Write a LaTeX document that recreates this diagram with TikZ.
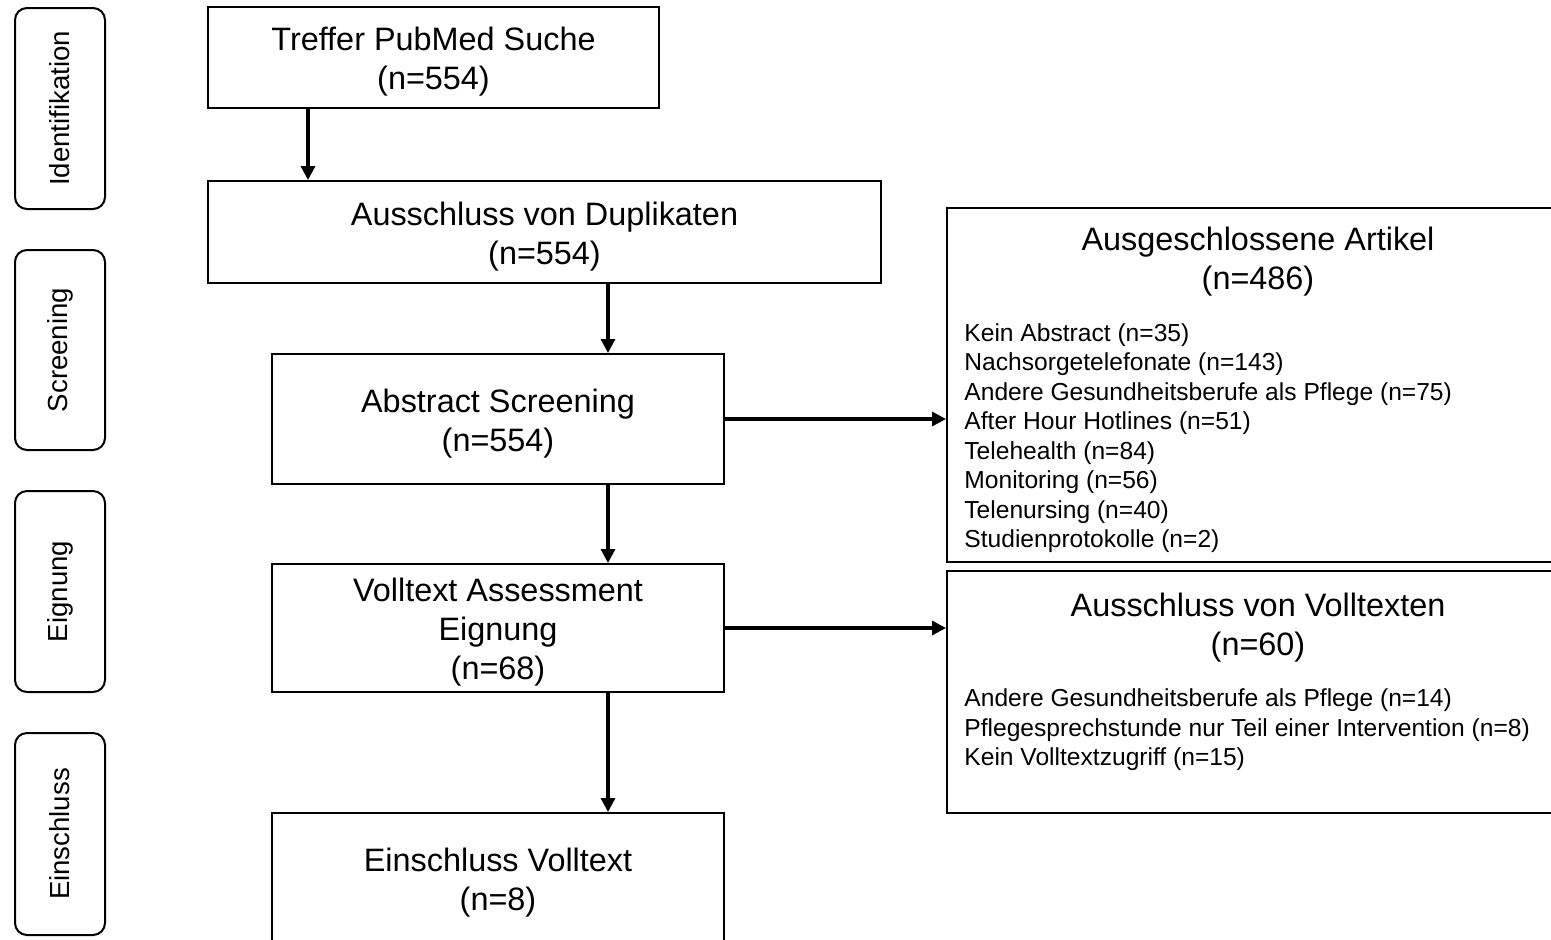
\documentclass[tikz,border=0pt]{standalone}
\usepackage{fontspec}
\setmainfont{Liberation Sans}
\usetikzlibrary{arrows.meta}
\begin{document}
\begin{tikzpicture}[x=0.5pt,y=-0.5pt,
  box/.style={draw=black,line width=1pt,inner sep=0pt},
  boxtext/.style={align=center,inner sep=0pt,
    font=\fontsize{16.2pt}{19.5pt}\selectfont},
  exbox/.style={draw=black,line width=1pt,inner sep=0pt},
  phase/.style={draw=black,line width=1pt,rounded corners=6pt,inner sep=0pt,
    minimum width=45pt},
  phasetext/.style={rotate=90,font=\fontsize{13.8pt}{16pt}\selectfont},
  title/.style={align=center,inner sep=0pt,font=\fontsize{16.2pt}{19.5pt}\selectfont},
  list/.style={align=left,inner sep=0pt,anchor=west,font=\fontsize{12.3pt}{14.75pt}\selectfont},
  arr/.style={line width=1.6pt,-{Triangle[length=7pt,width=7pt]}}]
\useasboundingbox (0,0) rectangle (1551,939);
\clip (0,0) rectangle (1551,939);
% phase labels
\node[phase,minimum height=100.5pt] (l1) at (60,108.5) {};
\node[phasetext] (t1) at (l1.center) {Identifikation};
\node[phase,minimum height=100pt] (l2) at (60,350) {};
\node[phasetext] (t2) at (l2.center) {Screening};
\node[phase,minimum height=100.5pt] (l3) at (60,591.5) {};
\node[phasetext] (t3) at (l3.center) {Eignung};
\node[phase,minimum height=101pt] (l4) at (60,834) {};
\node[phasetext] (t4) at (l4.center) {Einschluss};
% main boxes
\node[box,minimum width=225.5pt,minimum height=50.5pt] (b1) at (433.5,57.5) {};
\node[boxtext] (b1t) at ([yshift=-2.2pt]b1.center) {Treffer PubMed Suche\\(n=554)};
\node[box,minimum width=336.5pt,minimum height=51pt] (b2) at (544.5,232) {};
\node[boxtext] (b2t) at ([yshift=-2.2pt]b2.center) {Ausschluss von Duplikaten\\(n=554)};
\node[box,minimum width=226pt,minimum height=65pt] (b3) at (498,419) {};
\node[boxtext] (b3t) at ([yshift=-2.2pt]b3.center) {Abstract Screening\\(n=554)};
\node[box,minimum width=226pt,minimum height=64pt] (b4) at (498,628) {};
\node[boxtext] (b4t) at ([yshift=-1.8pt]b4.center) {Volltext Assessment\\Eignung\\(n=68)};
\node[box,minimum width=226pt,minimum height=65pt] (b5) at (498,878) {};
\node[boxtext] (b5t) at ([yshift=-2.2pt]b5.center) {Einschluss Volltext\\(n=8)};
% exclusion boxes
\node[exbox,minimum width=311pt,minimum height=177pt] (r1) at (1258,385) {};
\node[title] (r1t) at (1258,261.5) {Ausgeschlossene Artikel\\(n=486)};
\node[list] (r1l) at (964,438) {Kein Abstract (n=35)\\Nachsorgetelefonate (n=143)\\Andere Gesundheitsberufe als Pflege (n=75)\\After Hour Hotlines (n=51)\\Telehealth (n=84)\\Monitoring (n=56)\\Telenursing (n=40)\\Studienprotokolle (n=2)};
\node[exbox,minimum width=311pt,minimum height=121pt] (r2) at (1258,692) {};
\node[title] (r2t) at (1258,627.5) {Ausschluss von Volltexten\\(n=60)};
\node[list] (r2l) at (964,730) {Andere Gesundheitsberufe als Pflege (n=14)\\Pflegesprechstunde nur Teil einer Intervention (n=8)\\Kein Volltextzugriff (n=15)};
% connectors
\coordinate (c1) at (308,0);
\coordinate (c2) at (608,0);
\draw[arr] (b1.south -| c1) -- (b2.north -| c1);
\draw[arr] (b2.south -| c2) -- (b3.north -| c2);
\draw[arr] (b3.south -| c2) -- (b4.north -| c2);
\draw[arr] (b4.south -| c2) -- (b5.north -| c2);
\draw[arr] (b3.east) -- (b3.east -| r1.west);
\draw[arr] (b4.east) -- (b4.east -| r2.west);
\end{tikzpicture}
\end{document}
